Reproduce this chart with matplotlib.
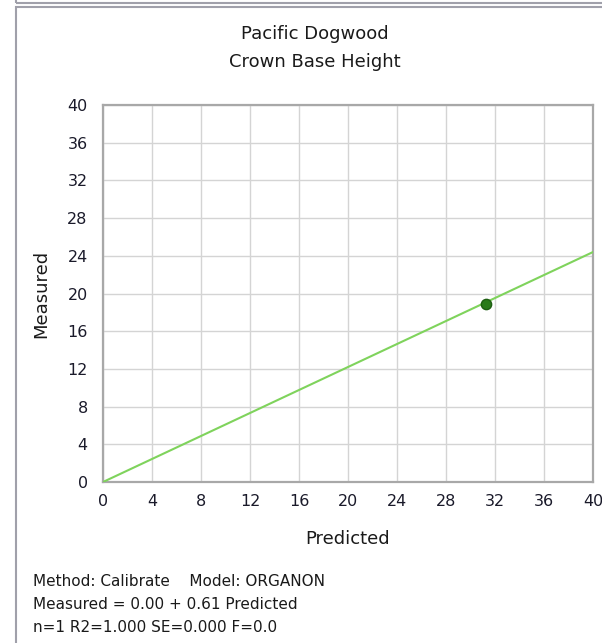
import numpy as np
import matplotlib
matplotlib.use("Agg")
import matplotlib.pyplot as plt
from matplotlib.patches import Rectangle

# data
predicted = [31.3]
measured = [18.9]
intercept = 0.00
slope = 0.61
ticks = [0, 4, 8, 12, 16, 20, 24, 28, 32, 36, 40]
footer = ["Method: Calibrate    Model: ORGANON",
          "Measured = 0.00 + 0.61 Predicted",
          "n=1 R2=1.000 SE=0.000 F=0.0"]

W, H = 602, 643
fig = plt.figure(figsize=(W / 100, H / 100), dpi=100)

# window frame bits
fig.patches.append(Rectangle((16 / W, 1 - 2.5 / H), 1, 0.1, transform=fig.transFigure,
                             fill=False, edgecolor="#a0a0aa", lw=1.5))
fig.patches.append(Rectangle((16 / W, -0.1), 1, 1 + 0.1 - 7 / H, transform=fig.transFigure,
                             fill=False, edgecolor="#a0a0aa", lw=1.5))

ax = fig.add_axes([103 / W, 1 - 482 / H, 490 / W, 377 / H])
ax.set_xlim(0, 40)
ax.set_ylim(0, 40)
ax.set_xticks(ticks)
ax.set_yticks(ticks)
ax.grid(True, color="#d4d4d4", lw=1)
ax.set_axisbelow(True)
for s in ax.spines.values():
    s.set_color("#a8a8a8")
    s.set_linewidth(1.6)
ax.tick_params(length=0, labelsize=11.5, labelcolor="#1a1a2a")
ax.tick_params(axis="x", pad=9)
ax.tick_params(axis="y", pad=11)

xl = np.array([0, 40])
ax.plot(xl, intercept + slope * xl, color="#7fd35c", lw=1.5, zorder=3)
ax.scatter(predicted, measured, s=55, color="#2a7a1a", edgecolor="#1e5e12", zorder=4)

ax.set_xlabel("Predicted", fontsize=13, color="#1a1a1a", labelpad=15)
ax.set_ylabel("Measured", fontsize=13, color="#1a1a1a", labelpad=12)

fig.text(315 / W, 1 - 34 / H, "Pacific Dogwood", ha="center", va="center", fontsize=13, color="#1a1a1a")
fig.text(315 / W, 1 - 62 / H, "Crown Base Height", ha="center", va="center", fontsize=13, color="#1a1a1a")

for i, line in enumerate(footer):
    fig.text(33 / W, 1 - (581 + 23.5 * i) / H, line, ha="left", va="center", fontsize=11, color="#1a1a1a")

fig.savefig("out.png", dpi=100)
